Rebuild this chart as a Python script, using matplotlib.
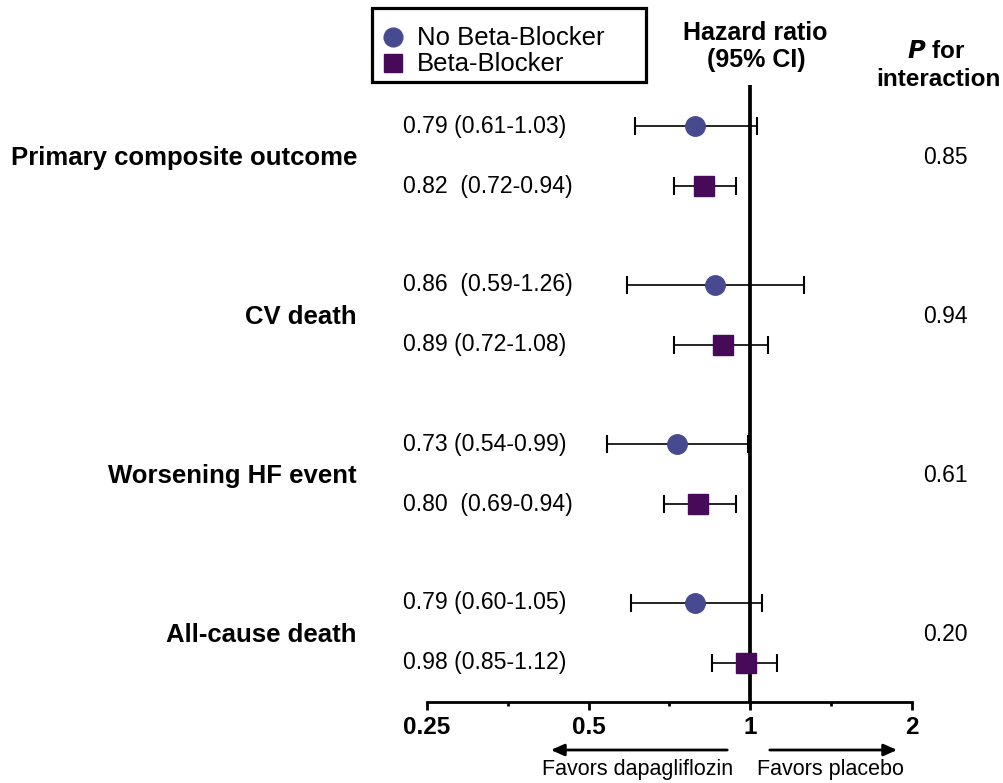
import matplotlib
matplotlib.use("Agg")
import matplotlib.pyplot as plt
from matplotlib.transforms import Affine2D
from matplotlib.patches import Rectangle
from matplotlib.lines import Line2D

plt.rcParams['font.family'] = ['Liberation Sans', 'DejaVu Sans']

outcomes = ["Primary composite outcome", "CV death", "Worsening HF event", "All-cause death"]
hr_nobb = [0.79, 0.86, 0.73, 0.79]
lo_nobb = [0.61, 0.59, 0.54, 0.60]
hi_nobb = [1.03, 1.26, 0.99, 1.05]
hr_bb = [0.82, 0.89, 0.80, 0.98]
lo_bb = [0.72, 0.72, 0.69, 0.85]
hi_bb = [0.94, 1.08, 0.94, 1.12]
txt_nobb = ["0.79 (0.61-1.03)", "0.86  (0.59-1.26)", "0.73 (0.54-0.99)", "0.79 (0.60-1.05)"]
txt_bb = ["0.82  (0.72-0.94)", "0.89 (0.72-1.08)", "0.80  (0.69-0.94)", "0.98 (0.85-1.12)"]
p_inter = ["0.85", "0.94", "0.61", "0.20"]
xticks = [0.25, 0.5, 1, 2]
xticklabels = ["0.25", "0.5", "1", "2"]
minor_ticks = [0.3536, 0.7071, 1.4142]

W, H = 1004, 783
fig = plt.figure(figsize=(W / 100, H / 100), dpi=100)
px = Affine2D().scale(1 / W, -1 / H).translate(0, 1) + fig.transFigure

ax_l, ax_r, ax_b, ax_t = 427, 912, 702, 85
ax = fig.add_axes([ax_l / W, 1 - ax_b / H, (ax_r - ax_l) / W, (ax_b - ax_t) / H])
ax.set_xscale('log')
ax.set_xlim(0.25, 2)
ax.set_ylim(ax_b, ax_t)

c_nobb = "#474A8E"
c_bb = "#460A58"

def rowy(g, s):
    return 126 + g * 159 + s * 60

for g in range(len(outcomes)):
    y1, y2 = rowy(g, 0), rowy(g, 1)
    ax.errorbar([hr_nobb[g]], [y1], xerr=[[hr_nobb[g] - lo_nobb[g]], [hi_nobb[g] - hr_nobb[g]]],
                fmt='o', color='black', ecolor='black', elinewidth=1.2, capsize=6.3, capthick=1.5,
                markersize=14, markerfacecolor=c_nobb, markeredgecolor=c_nobb, zorder=3)
    ax.errorbar([hr_bb[g]], [y2], xerr=[[hr_bb[g] - lo_bb[g]], [hi_bb[g] - hr_bb[g]]],
                fmt='s', color='black', ecolor='black', elinewidth=1.2, capsize=6.3, capthick=1.5,
                markersize=14, markerfacecolor=c_bb, markeredgecolor=c_bb, zorder=3)
    ymid = (y1 + y2) / 2 + 1.5
    fig.text(357, ymid, outcomes[g], transform=px, ha='right', va='center',
             fontsize=18.5, fontweight='bold')
    fig.text(403, y1, txt_nobb[g], transform=px, ha='left', va='center', fontsize=16.6)
    fig.text(403, y2, txt_bb[g], transform=px, ha='left', va='center', fontsize=16.6)
    fig.text(945, ymid, p_inter[g], transform=px, ha='center', va='center', fontsize=16.5)

ax.axvline(1, color='black', lw=2.7, zorder=2)

for s in ['top', 'right', 'left']:
    ax.spines[s].set_visible(False)
ax.spines['bottom'].set_linewidth(2)
ax.set_yticks([])
ax.set_xticks(xticks)
ax.set_xticklabels(xticklabels, fontsize=17.5, fontweight='bold')
ax.set_xticks(minor_ticks, minor=True)
ax.set_xticklabels([], minor=True)
ax.tick_params(axis='x', which='major', length=5.8, width=2, direction='out', pad=4.5)
ax.tick_params(axis='x', which='minor', length=3, width=2, direction='out')

# headers
fig.text(755, 33, "Hazard ratio", transform=px, ha='center', va='center', fontsize=18, fontweight='bold')
fig.text(756, 60, "(95% CI)", transform=px, ha='center', va='center', fontsize=18, fontweight='bold')
fig.text(936, 52, r"$\bfit{P}$ for", transform=px, ha='center', va='center', fontsize=17.5, fontweight='bold')
fig.text(938, 80, "interaction", transform=px, ha='center', va='center', fontsize=17.5, fontweight='bold')

# legend
fig.patches.append(Rectangle((372, 8), 274, 74, transform=px, fill=False, lw=2.3, edgecolor='black'))
fig.lines.append(Line2D([393], [37], transform=px, marker='o', markersize=13.5, color=c_nobb, linestyle='none'))
fig.lines.append(Line2D([393], [63], transform=px, marker='s', markersize=12.5, color=c_bb, linestyle='none'))
fig.text(417, 38, "No Beta-Blocker", transform=px, ha='left', va='center', fontsize=18.5)
fig.text(417, 64, "Beta-Blocker", transform=px, ha='left', va='center', fontsize=18.5)

# favors arrows
ax.annotate("", xy=(548, 750), xytext=(730, 750), xycoords=px, textcoords=px,
            arrowprops=dict(arrowstyle='-|>,head_length=0.8,head_width=0.35', color='black', lw=2))
ax.annotate("", xy=(900, 750), xytext=(767, 750), xycoords=px, textcoords=px,
            arrowprops=dict(arrowstyle='-|>,head_length=0.8,head_width=0.35', color='black', lw=2))
fig.text(638, 770, "Favors dapagliflozin", transform=px, ha='center', va='center', fontsize=15.5)
fig.text(830, 770, "Favors placebo", transform=px, ha='center', va='center', fontsize=15.5)

fig.savefig("out.png", dpi=100, facecolor='white')
